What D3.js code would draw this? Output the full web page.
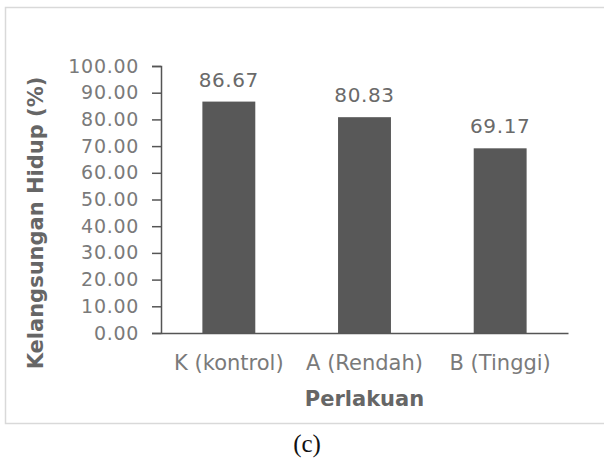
<!DOCTYPE html>
<html>
<head>
<meta charset="utf-8">
<script src="https://cdn.jsdelivr.net/npm/d3@7/dist/d3.min.js"></script>
<style>
  html, body { margin: 0; padding: 0; background: #fff; }
  svg { display: block; }
</style>
</head>
<body>
<svg id="chart" width="604" height="463"></svg>
<script>
// Survival rate per treatment
const categories = ["K (kontrol)", "A (Rendah)", "B (Tinggi)"];
const survival = [86.67, 80.83, 69.17];
const yTicks = [0, 10, 20, 30, 40, 50, 60, 70, 80, 90, 100];

const svg = d3.select("#chart");
const W = 604, H = 463;
const font = "'DejaVu Sans', Verdana, sans-serif";

// Chart frame
svg.append("rect")
  .attr("x", 5.5).attr("y", 7.5)
  .attr("width", W + 10).attr("height", 416)
  .attr("fill", "#fff")
  .attr("stroke", "#d9d9d9").attr("stroke-width", 1.5);

const plot = { left: 161, right: 568, top: 66, bottom: 333 };

const x = d3.scaleBand()
  .domain(categories)
  .range([plot.left, plot.right])
  .paddingInner(0.61)
  .paddingOuter(0.305);

const y = d3.scaleLinear()
  .domain([0, 100])
  .range([plot.bottom, plot.top]);

// Bars
svg.append("g").selectAll("rect")
  .data(categories)
  .join("rect")
  .attr("x", d => x(d))
  .attr("y", (d, i) => y(survival[i]))
  .attr("width", x.bandwidth())
  .attr("height", (d, i) => y(0) - y(survival[i]))
  .attr("fill", "#585858");

// Value labels
svg.append("g").selectAll("text")
  .data(categories)
  .join("text")
  .attr("x", d => x(d) + x.bandwidth() / 2)
  .attr("y", (d, i) => y(survival[i]) - 15)
  .attr("text-anchor", "middle")
  .attr("font-family", font)
  .attr("font-size", 20)
  .attr("letter-spacing", 0.6)
  .attr("fill", "#6a6a6a")
  .text((d, i) => survival[i].toFixed(2));

// Y axis
const yAxis = d3.axisLeft(y)
  .tickValues(yTicks)
  .tickSize(9)
  .tickPadding(13)
  .tickFormat(d => d.toFixed(2));

const gy = svg.append("g")
  .attr("transform", `translate(${plot.left},0)`)
  .call(yAxis);
gy.select(".domain").attr("stroke", "#555").attr("stroke-width", 1.5);
gy.selectAll(".tick line").attr("stroke", "#555").attr("stroke-width", 1.5);
gy.selectAll(".tick text")
  .attr("font-family", font)
  .attr("font-size", 19)
  .attr("letter-spacing", 0.7)
  .attr("fill", "#7a7a7a");

// X axis
const xAxis = d3.axisBottom(x).tickSize(0).tickPadding(22);
const gx = svg.append("g")
  .attr("transform", `translate(0,${plot.bottom})`)
  .call(xAxis);
gx.select(".domain").attr("stroke", "#555").attr("stroke-width", 1.5);
gx.selectAll(".tick text")
  .attr("font-family", font)
  .attr("font-size", 21)
  .attr("fill", "#7a7a7a");

// Axis titles
svg.append("text")
  .attr("x", (plot.left + plot.right) / 2)
  .attr("y", 406)
  .attr("text-anchor", "middle")
  .attr("font-family", font)
  .attr("font-weight", "bold")
  .attr("font-size", 21)
  .attr("fill", "#666")
  .text("Perlakuan");

svg.append("text")
  .attr("transform", "translate(43,223) rotate(-90)")
  .attr("text-anchor", "middle")
  .attr("font-family", font)
  .attr("font-weight", "bold")
  .attr("font-size", 21)
  .attr("fill", "#666")
  .text("Kelangsungan Hidup (%)");

// Panel caption
svg.append("text")
  .attr("x", 307)
  .attr("y", 452)
  .attr("text-anchor", "middle")
  .attr("font-family", "'Liberation Serif', 'Times New Roman', serif")
  .attr("font-size", 25)
  .attr("fill", "#111")
  .text("(c)");
</script>
</body>
</html>
